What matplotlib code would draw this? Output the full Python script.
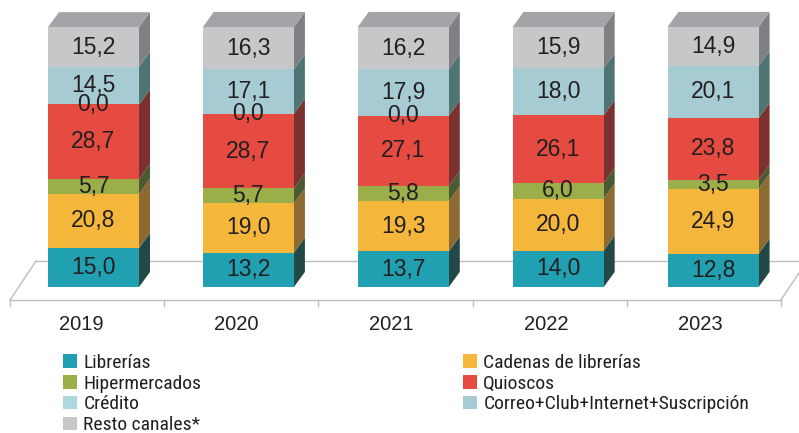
import numpy as np
import matplotlib
matplotlib.use("Agg")
import matplotlib.pyplot as plt
from matplotlib.patches import Polygon, Patch
from matplotlib import font_manager

years = ["2019", "2020", "2021", "2022", "2023"]
librerias = [15.0, 13.2, 13.7, 14.0, 12.8]
cadenas = [20.8, 19.0, 19.3, 20.0, 24.9]
hiper = [5.7, 5.7, 5.8, 6.0, 3.5]
quioscos = [28.7, 28.7, 27.1, 26.1, 23.8]
credito = [0.0, 0.0, 0.0, np.nan, np.nan]
correo = [14.5, 17.1, 17.9, 18.0, 20.1]
resto = [15.2, 16.3, 16.2, 15.9, 14.9]

series = [
    ("Librerías", librerias, "#20a0b0", "#234845"),
    ("Cadenas de librerías", cadenas, "#f4b73c", "#8c6a32"),
    ("Hipermercados", hiper, "#9aae4a", "#4b5a33"),
    ("Quioscos", quioscos, "#e64b42", "#7a3130"),
    ("Crédito", credito, "#acd8de", "#4e7474"),
    ("Correo+Club+Internet+Suscripción", correo, "#a6cbd3", "#4e7474"),
    ("Resto canales*", resto, "#c6c7c9", "#7f8083"),
]
top_color = "#a3a4a7"
txt = "#231f20"

# condensed font for the legend if one is installed
fonts = font_manager.fontManager.ttflist
narrow = None
for f in fonts:
    if f.name in ("Liberation Sans Narrow", "Roboto Condensed", "DejaVu Sans Condensed"):
        narrow = dict(family=f.name, size=14)
        break
if narrow is None and any(f.name == "DejaVu Sans" and f.stretch == "condensed" for f in fonts):
    narrow = dict(family="DejaVu Sans", stretch="condensed", size=13)
if narrow is None:
    narrow = dict(family="Liberation Sans", size=12.3)

fig = plt.figure(figsize=(7.99, 4.33), dpi=100)
ax = fig.add_axes([0, 0, 1, 1])
ax.set_xlim(-0.6036, 4.555)
ax.set_ylim(-56.15, 110.38)
ax.axis("off")

x = np.arange(len(years))
w = 0.588
ddx, ddy = 0.071, 5.8

# floor
fx0, fx1, fy = -0.539, 4.438, -5.0
bdx, bdy = 0.168, 15.0
fl = dict(color="#bdbdbd", lw=1.0, zorder=1)
ax.plot([fx0, fx1], [fy, fy], **fl)
ax.plot([fx0 + bdx, fx1 + bdx], [fy + bdy, fy + bdy], **fl)
ax.plot([fx0, fx0 + bdx], [fy, fy + bdy], **fl)
ax.plot([fx1, fx1 + bdx], [fy, fy + bdy], **fl)
for t in np.linspace(fx0, fx1, 6):
    ax.plot([t, t], [fy, fy - 2.4], **fl)

bottom = np.zeros(len(years))
for name, vals, col, side in series:
    v = np.nan_to_num(np.array(vals, dtype=float))
    ax.bar(x, v, w, bottom=bottom, color=col, linewidth=0, zorder=3)
    for i in range(len(years)):
        xr = x[i] + w / 2
        y0, y1 = bottom[i], bottom[i] + v[i]
        if v[i] > 0:
            ax.add_patch(Polygon([(xr, y0), (xr + ddx, y0 + ddy), (xr + ddx, y1 + ddy), (xr, y1)],
                                 closed=True, facecolor=side, lw=0, zorder=2))
        if not np.isnan(vals[i]):
            ax.text(x[i], y0 + v[i] / 2, f"{vals[i]:.1f}".replace(".", ","), ha="center", va="center",
                    fontsize=16.5, color=txt, family="Liberation Sans", zorder=5)
    bottom = bottom + v

for i in range(len(years)):
    xl, xr, t = x[i] - w / 2, x[i] + w / 2, bottom[i]
    ax.add_patch(Polygon([(xl, t), (xl + ddx, t + ddy), (xr + ddx, t + ddy), (xr, t)],
                         closed=True, facecolor=top_color, lw=0, zorder=2))
    ax.text(x[i] - 0.08, -14.4, years[i], ha="center", va="center", fontsize=14.5,
            color=txt, family="Liberation Sans")

handles = {name: Patch(facecolor=col, edgecolor="none") for name, vals, col, side in series}
col1 = ["Librerías", "Hipermercados", "Crédito", "Resto canales*"]
col2 = ["Cadenas de librerías", "Quioscos", "Correo+Club+Internet+Suscripción"]
hl = 13.5 / (narrow["size"] * 100 / 72)
kw = dict(loc="upper left", frameon=False, prop=narrow, handlelength=hl, handleheight=hl,
          handletextpad=0.35, labelspacing=0.14, borderaxespad=0, borderpad=0, labelcolor=txt)
lg1 = ax.legend([handles[n] for n in col1], col1, bbox_to_anchor=(63 / 799, 1 - 354 / 433), **kw)
ax.add_artist(lg1)
ax.legend([handles[n] for n in col2], col2, bbox_to_anchor=(463 / 799, 1 - 354 / 433), **kw)

fig.savefig("out.png", dpi=100)
